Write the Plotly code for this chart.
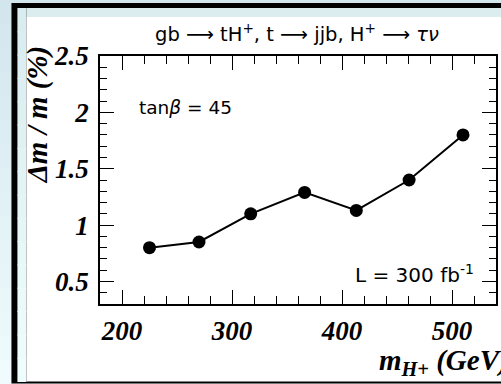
import plotly.graph_objects as go

# Charged Higgs mass (GeV) and relative mass resolution (%)
mass_gev = [225, 270, 317, 366, 413, 461, 510]
delta_m_pct = [0.80, 0.85, 1.10, 1.29, 1.13, 1.40, 1.80]

x_tick_vals = [200, 300, 400, 500]
x_tick_text = ["200", "300", "400", "500"]
y_tick_vals = [0.5, 1.0, 1.5, 2.0, 2.5]
y_tick_text = ["0.5", "1", "1.5", "2", "2.5"]

W, H = 501, 384
L_PX, R_PX, T_PX, B_PX = 100, 498, 56, 304


def px(x):
    return (x - L_PX) / (R_PX - L_PX)


def py(y):
    return (B_PX - y) / (B_PX - T_PX)


def rect(x0, y0, x1, y1, color):
    return dict(type="rect", xref="paper", yref="paper", layer="below",
                x0=px(x0), x1=px(x1), y0=py(y1), y1=py(y0),
                fillcolor=color, line=dict(width=0))


def blend(c0, c1, t):
    a = [int(c0[i:i + 2], 16) for i in (1, 3, 5)]
    b = [int(c1[i:i + 2], 16) for i in (1, 3, 5)]
    return "#" + "".join(f"{round(a[k] + (b[k] - a[k]) * t):02x}" for k in range(3))


shapes = []
# soft blue slide background, lighter towards the bottom
n = 16
for i in range(n):
    y0 = i * H / n
    y1 = (i + 1) * H / n + 1
    shapes.append(rect(-5, y0, 11, y1, blend("#d3e6ee", "#effbfc", i / (n - 1))))
shapes.append(rect(-5, -5, 520, 3, "#d3e6ee"))
# black frame
shapes.append(rect(11, 3, 520, 383.5, "#000000"))
# inner pale strip
for i in range(n):
    y0 = 8 + i * (381 - 8) / n
    y1 = 8 + (i + 1) * (381 - 8) / n + 1
    shapes.append(rect(17, y0, 26, y1, blend("#d9ecf0", "#effcfc", i / (n - 1))))
shapes.append(rect(26, 8, 520, 17, "#dbedee"))
# white panel
shapes.append(rect(26, 17, 520, 381.5, "#ffffff"))

fig = go.Figure()
fig.add_trace(go.Scatter(
    x=mass_gev, y=delta_m_pct, mode="lines+markers",
    line=dict(color="#000000", width=2),
    marker=dict(color="#000000", size=13),
    showlegend=False, cliponaxis=False,
))

serif_bi = dict(family="Liberation Serif", size=27, color="#000000",
                weight="bold", style="italic")

axis_common = dict(
    showline=True, linecolor="#000000", linewidth=1.5, mirror="allticks",
    ticks="inside", ticklen=14, tickwidth=1.3, tickcolor="#000000",
    showgrid=False, zeroline=False, tickfont=serif_bi,
)

fig.update_xaxes(
    range=[180, 540], tickvals=x_tick_vals, ticktext=x_tick_text,
    minor=dict(dtick=20, tick0=180, ticks="inside", ticklen=8,
               tickwidth=1.2, tickcolor="#000000"),
    ticklabelstandoff=2, **axis_common,
)
fig.update_yaxes(
    range=[0.3, 2.5], tickvals=y_tick_vals, ticktext=y_tick_text,
    minor=dict(dtick=0.1, tick0=0.3, ticks="inside", ticklen=7,
               tickwidth=1.2, tickcolor="#000000"),
    ticklabelstandoff=4, **axis_common,
)


def sans(size):
    return dict(family="DejaVu Sans", size=size, color="#000000")


annotations = [
    dict(text="gb ⟶ tH<sup>+</sup>, t ⟶ jjb, H<sup>+</sup> ⟶ <i>τν</i>",
         x=px(298), y=py(33), xanchor="center", yanchor="middle", font=sans(19.5)),
    dict(text="tan<i>β</i> = 45", x=px(137), y=py(107),
         xanchor="left", yanchor="middle", font=sans(18.5)),
    dict(text="L = 300 fb<sup>-1</sup>", x=px(478), y=py(274),
         xanchor="right", yanchor="middle", font=sans(20)),
    dict(text="Δm / m (%)", x=px(37), y=py(114), textangle=-90,
         xanchor="center", yanchor="middle",
         font=dict(family="Liberation Serif", size=29, color="#000000",
                   weight="bold", style="italic")),
    dict(text="m<sub>H+</sub> (GeV)", x=px(378), y=py(362),
         xanchor="left", yanchor="middle",
         font=dict(family="Liberation Serif", size=29, color="#000000",
                   weight="bold", style="italic")),
]
for a in annotations:
    a.update(xref="paper", yref="paper", showarrow=False)

fig.update_layout(
    width=W, height=H,
    margin=dict(l=L_PX, r=W - R_PX, t=T_PX, b=H - B_PX, pad=0),
    paper_bgcolor="#e6f4f7", plot_bgcolor="rgba(0,0,0,0)",
    shapes=shapes, annotations=annotations,
)

fig.write_html("out.html")
